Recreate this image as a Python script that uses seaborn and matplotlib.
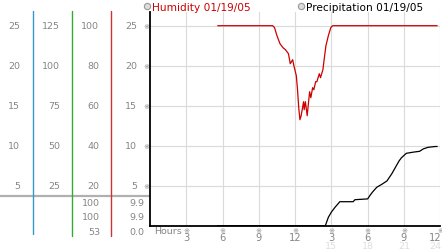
import matplotlib
matplotlib.use("Agg")
import matplotlib.pyplot as plt
import seaborn as sns
import pandas as pd
from matplotlib.transforms import blended_transform_factory

# ---------------- data ----------------
hum_hours = [5.6, 10.15, 10.3, 10.5, 10.75, 11.0, 11.2, 11.45, 11.6, 11.8, 11.9,
             12.1, 12.2, 12.3, 12.4, 12.5, 12.7, 12.75, 12.85, 13.0, 13.2, 13.3,
             13.45, 13.55, 13.7, 13.8, 14.0, 14.1, 14.3, 14.4, 14.55, 14.75,
             14.95, 15.1, 23.75]
humidity = [100, 100, 99, 95, 91, 89, 88, 86, 81, 83, 80,
            75, 68, 59, 53, 55, 62, 58, 62, 55, 67, 64,
            69, 68, 72, 72, 76, 74, 78, 83, 90, 95,
            99, 100, 100]

pre_hours = [5.6, 14.5, 14.75, 15.0, 15.3, 15.7, 16.8, 16.95, 18.0, 18.2, 18.4,
             18.75, 19.2, 19.6, 20.0, 20.3, 20.6, 20.8, 21.2, 21.8, 22.3, 22.6,
             23.0, 23.6, 23.75]
precip = [0, 0, 1.05, 1.7, 2.3, 3.0, 3.0, 3.25, 3.35, 3.8, 4.2,
          4.8, 5.2, 5.6, 6.5, 7.3, 8.1, 8.5, 9.05, 9.2, 9.3, 9.6,
          9.8, 9.9, 9.9]

col1_labels = [25, 20, 15, 10, 5]
col2_labels = [125, 100, 75, 50, 25]
col3_labels = [100, 80, 60, 40, 20]
col4_labels = [25, 20, 15, 10, 5]
hum_stats = ["100", "100", "53"]
pre_stats = ["9.9", "9.9", "0.0"]

x_ticks = [3, 6, 9, 12, 15, 18, 21, 24]
x_labels = ["3", "6", "9", "12", "3", "6", "9", "12"]
faint_ticks = [15, 18, 21, 24]
faint_labels = ["15", "18", "21", "24"]

legend_names = ["Humidity 01/19/05", "Precipitation 01/19/05"]

# ---------------- figure ----------------
sns.set_style("white")
plt.rcParams['font.family'] = ['DejaVu Sans']
W, H = 442, 253
fig = plt.figure(figsize=(W / 100, H / 100), dpi=100)

deco = fig.add_axes([0, 0, 1, 1])
deco.set_xlim(0, W)
deco.set_ylim(H, 0)
deco.axis('off')

y0, ytop = 226.7, 13
ax = fig.add_axes([150 / W, (H - y0) / H, (440.2 - 150) / W, (y0 - ytop) / H])
ax.set_xlim(0, 24)
ax.set_ylim(0, 25 + (26.7 - ytop) / 8)
ax.patch.set_alpha(0)

ax.set_xticks(x_ticks)
ax.set_yticks(col4_labels)
ax.grid(True, color="#dadada", lw=0.8)
ax.tick_params(length=0, labelbottom=False, labelleft=False)
for s in ["top", "right"]:
    ax.spines[s].set_visible(False)
for s in ["left", "bottom"]:
    ax.spines[s].set_color("black")
    ax.spines[s].set_linewidth(1.3)

df_h = pd.DataFrame({"hour": hum_hours, "val": [v / 4 for v in humidity]})
df_p = pd.DataFrame({"hour": pre_hours, "val": precip})
sns.lineplot(data=df_h, x="hour", y="val", ax=ax, color="#cc0000", lw=0.9,
             estimator=None, sort=False)
sns.lineplot(data=df_p, x="hour", y="val", ax=ax, color="black", lw=0.9,
             estimator=None, sort=False)
ax.set_xlabel("")
ax.set_ylabel("")

gray = "#858585"
fs = 6.8
ty = blended_transform_factory(deco.transData, ax.transData)
tx = blended_transform_factory(ax.transData, deco.transData)

# left scale columns
for cols, xr in [(col1_labels, 20), (col2_labels, 60), (col3_labels, 99), (col4_labels, 137)]:
    for lab, yv in zip(cols, col4_labels):
        deco.text(xr, yv, str(lab), transform=ty, ha="right", va="center",
                  fontsize=fs, color=gray)
for yv in col4_labels:
    deco.text(146, yv, "※", transform=ty, ha="center", va="center",
              fontsize=5.2, color="#8a8a8a")

# separators
deco.plot([0, 150], [197, 197], color="#b0b0b0", lw=1.6, solid_capstyle="butt")
deco.plot([33, 33], [12, 235], color="#3399cc", lw=1.0)
deco.plot([72, 72], [12, 237], color="#33aa33", lw=1.0)
deco.plot([111, 111], [12, 237], color="#cc3333", lw=1.0)

for lab, yy in zip(hum_stats, [204, 218, 233]):
    deco.text(100, yy, lab, ha="right", va="center", fontsize=fs, color=gray)
for lab, yy in zip(pre_stats, [204, 218, 233]):
    deco.text(144, yy, lab, ha="right", va="center", fontsize=fs, color=gray)

# x tick labels
deco.text(154, 232, "Hours", ha="left", va="center", fontsize=fs, color=gray)
for h, lab in zip(x_ticks, x_labels):
    deco.text(h, 231, "※", transform=tx, ha="center", va="center",
              fontsize=5.2, color="#8a8a8a")
    if h == x_ticks[-1]:
        deco.text(441.5, 238.5, lab, ha="right", va="center",
                  fontsize=fs + 0.3, color=gray)
    else:
        deco.text(h, 238.5, lab, transform=tx, ha="center", va="center",
                  fontsize=fs + 0.3, color=gray)
for h, lab in zip(faint_ticks, faint_labels):
    if h == faint_ticks[-1]:
        deco.text(441.5, 247, lab, ha="right", va="center",
                  fontsize=fs, color="#dedede")
    else:
        deco.text(h, 247, lab, transform=tx, ha="center", va="center",
                  fontsize=fs, color="#dedede")

# legend
for xc, name, c in [(147, legend_names[0], "#cc0000"), (301, legend_names[1], "black")]:
    deco.plot([xc], [7], marker="o", ms=4.5, mfc="#dddddd", mec="#999999", mew=0.8)
    deco.text(xc + 5, 7.5, name, ha="left", va="center", fontsize=7.6, color=c)

fig.savefig("out.png", dpi=100)
